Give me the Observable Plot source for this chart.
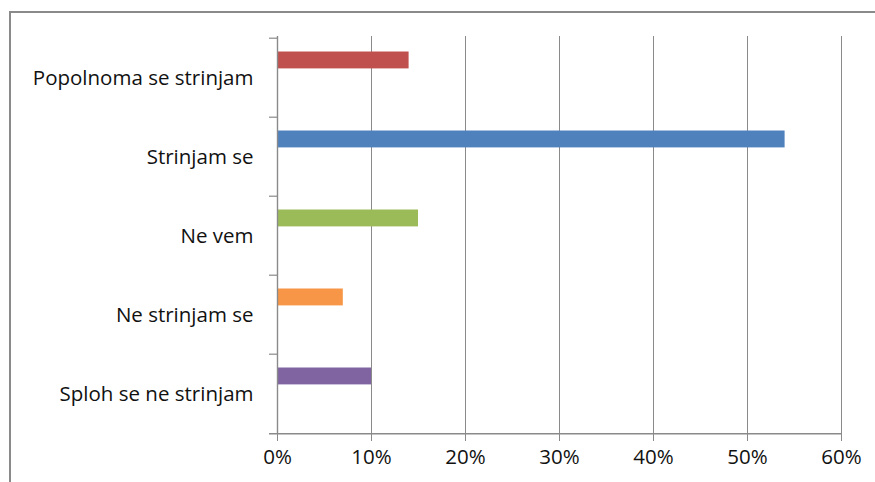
<!DOCTYPE html>
<html>
<head>
<meta charset="utf-8">
<script src="https://cdn.jsdelivr.net/npm/d3@7"></script>
<script src="https://cdn.jsdelivr.net/npm/@observablehq/plot@0.6"></script>
<style>
  html, body { margin: 0; padding: 0; background: #fff; overflow: hidden; }
  #wrap { position: relative; width: 875px; height: 482px; overflow: hidden; }
  #box { position: absolute; left: 9px; top: 11px; width: 1000px; height: 1000px;
         border: 2px solid #8a8a8a; box-sizing: border-box; }
  #chart { position: absolute; left: 0; top: 0; }
  svg text { fill: #111; }
</style>
</head>
<body>
<div id="wrap"><div id="box"></div><div id="chart"></div></div>
<script>
// Survey answers, top to bottom, with the share of respondents
const categories = ["Popolnoma se strinjam", "Strinjam se", "Ne vem", "Ne strinjam se", "Sploh se ne strinjam"];
const shares = [0.14, 0.54, 0.15, 0.07, 0.10];
const colors = ["#C0504D", "#4F81BD", "#9BBB59", "#F79646", "#8064A2"];
const xTicks = [0, 0.1, 0.2, 0.3, 0.4, 0.5, 0.6];

const rows = categories.map((c, i) => ({answer: c, share: shares[i], color: colors[i]}));

const W = 875, H = 482, mt = 36, mb = 48, ml = 277, mr = 34;
const band = (H - mt - mb) / categories.length;
const grid = "#8a8a8a";

const chart = Plot.plot({
  width: W, height: H,
  marginTop: mt, marginBottom: mb, marginLeft: ml, marginRight: mr,
  style: {fontFamily: "'Open Sans', sans-serif", fontSize: "20.5px", background: "transparent"},
  x: {domain: [0, 0.6]},
  y: {domain: categories, padding: 0},
  marks: [
    // vertical gridlines
    Plot.ruleX(xTicks.slice(1), {stroke: grid, strokeWidth: 1}),
    // bars sit in the upper part of each category band
    Plot.barX(rows, {y: "answer", x: "share", fill: "color",
      insetTop: 13.5, insetBottom: band - 31}),
    // category boundary ticks on the vertical axis
    Plot.ruleY(categories, {y: d => d, dy: -band / 2, x1: 0, x2: 0, insetLeft: -8, stroke: grid, strokeWidth: 1.2}),
    // horizontal axis line with its left tick
    Plot.ruleY(categories.slice(-1), {y: d => d, dy: band / 2, x1: 0, x2: 0.6, insetLeft: -8, stroke: grid, strokeWidth: 1.4}),
    // vertical axis line
    Plot.ruleX([0], {stroke: grid, strokeWidth: 1.4}),
    Plot.axisX({ticks: xTicks, tickFormat: d3.format(".0%"), tickSize: 7, tickPadding: 8, stroke: grid, label: null}),
    Plot.axisY({tickSize: 0, tickPadding: 24, label: null})
  ]
});
document.getElementById("chart").appendChild(chart);
</script>
</body>
</html>
